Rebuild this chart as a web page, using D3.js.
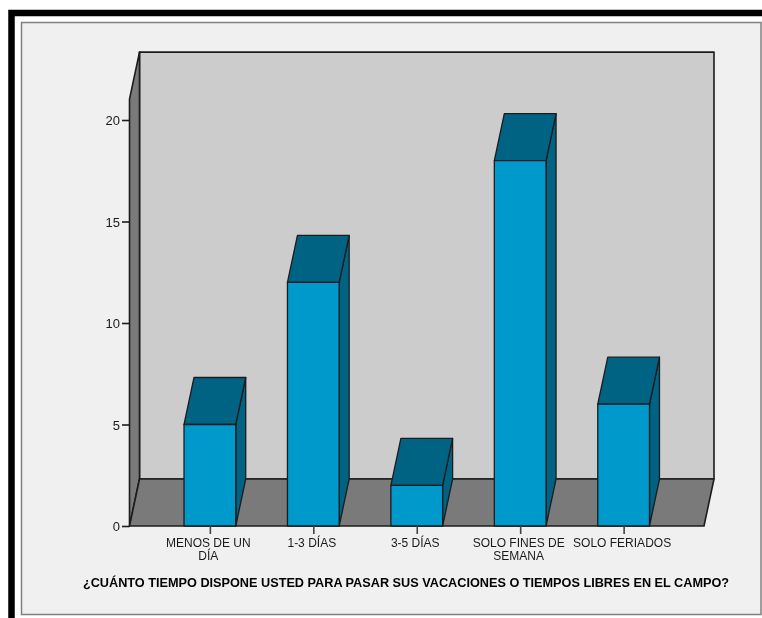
<!DOCTYPE html>
<html><head><meta charset="utf-8">
<script src="https://cdn.jsdelivr.net/npm/d3@7"></script>
<style>html,body{margin:0;padding:0;background:#fff}svg{display:block;filter:blur(0.4px)}
text{font-family:"Liberation Sans",Arial,sans-serif;fill:#1a1a1a}</style></head>
<body><svg id="c" width="762" height="618"></svg>
<script>
const categories=[["MENOS DE UN","DÍA"],["1-3 DÍAS"],["3-5 DÍAS"],["SOLO FINES DE","SEMANA"],["SOLO FERIADOS"]];
const values=[5,12,2,18,6];
const yTicks=[0,5,10,15,20];
const xTitle="¿CUÁNTO TIEMPO DISPONE USTED PARA PASAR SUS VACACIONES O TIEMPOS LIBRES EN EL CAMPO?";
const colors={front:"#0099cc",top:"#006384",side:"#006384",wall:"#cccccc",floor:"#7a7a7a",panel:"#f0f0f0",line:"#1c1c1c"};

const W=762,H=618,left=129.5,right=704,bottom=526,dx=10,dy=-47;
const svg=d3.select("#c");
svg.append("rect").attr("x",11.5).attr("y",13).attr("width",W).attr("height",H).attr("fill","#fff").attr("stroke","#000").attr("stroke-width",6.5);
svg.append("rect").attr("x",21.5).attr("y",22.5).attr("width",739.5).attr("height",592).attr("fill",colors.panel).attr("stroke","#808080").attr("stroke-width",1.5);

const y=d3.scaleLinear().domain([0,20]).range([bottom,120]);
const yMax=21.03;
const x=d3.scaleBand().domain(d3.range(categories.length)).range([left,right]).paddingInner(.5).paddingOuter(.527);
const poly=(pts,fill,sw=1.6)=>svg.append("polygon").attr("points",pts.map(p=>p.join(",")).join(" ")).attr("fill",fill).attr("stroke",colors.line).attr("stroke-width",sw).attr("stroke-linejoin","round");

const t=y(yMax);
poly([[left+dx,t+dy],[right+dx,t+dy],[right+dx,bottom+dy],[left+dx,bottom+dy]],colors.wall);
poly([[left,t],[left+dx,t+dy],[left+dx,bottom+dy],[left,bottom]],colors.floor);
poly([[left,bottom],[right,bottom],[right+dx,bottom+dy],[left+dx,bottom+dy]],colors.floor);

values.forEach((v,i)=>{
  const a=x(i),b=a+x.bandwidth(),h=y(v);
  poly([[b,h],[b+dx,h+dy],[b+dx,bottom+dy],[b,bottom]],colors.side,1.3);
  poly([[a,h],[a+dx,h+dy],[b+dx,h+dy],[b,h]],colors.top,1.3);
  poly([[a,h],[b,h],[b,bottom],[a,bottom]],colors.front,1.3);
});

const gy=svg.append("g").attr("transform",`translate(${left},0)`).call(d3.axisLeft(y).tickValues(yTicks).tickSize(7.5).tickPadding(2));
gy.select(".domain").remove();
gy.selectAll("line").attr("stroke",colors.line).attr("stroke-width",1.6);
gy.selectAll("text").style("font-size","13px").attr("dy","0.36em");

const xc=d3.scalePoint().domain(d3.range(categories.length)).range([x(0)+x.bandwidth()/2,x(4)+x.bandwidth()/2]);
const gx=svg.append("g").attr("transform",`translate(0,${bottom})`).call(d3.axisBottom(xc).tickSize(8).tickFormat(""));
gx.select(".domain").remove();
gx.selectAll("line").attr("stroke","#444").attr("stroke-width",1.6);
categories.forEach((lines,i)=>{
  lines.forEach((s,j)=>svg.append("text").attr("x",xc(i)-1.5).attr("y",546.5+j*13.7).attr("text-anchor","middle").style("font-size","12px").text(s));
});
svg.append("text").attr("x",406).attr("y",586.5).attr("text-anchor","middle").style("font-size","12.7px").style("font-weight","bold").style("fill","#000").text(xTitle);
</script></body></html>
